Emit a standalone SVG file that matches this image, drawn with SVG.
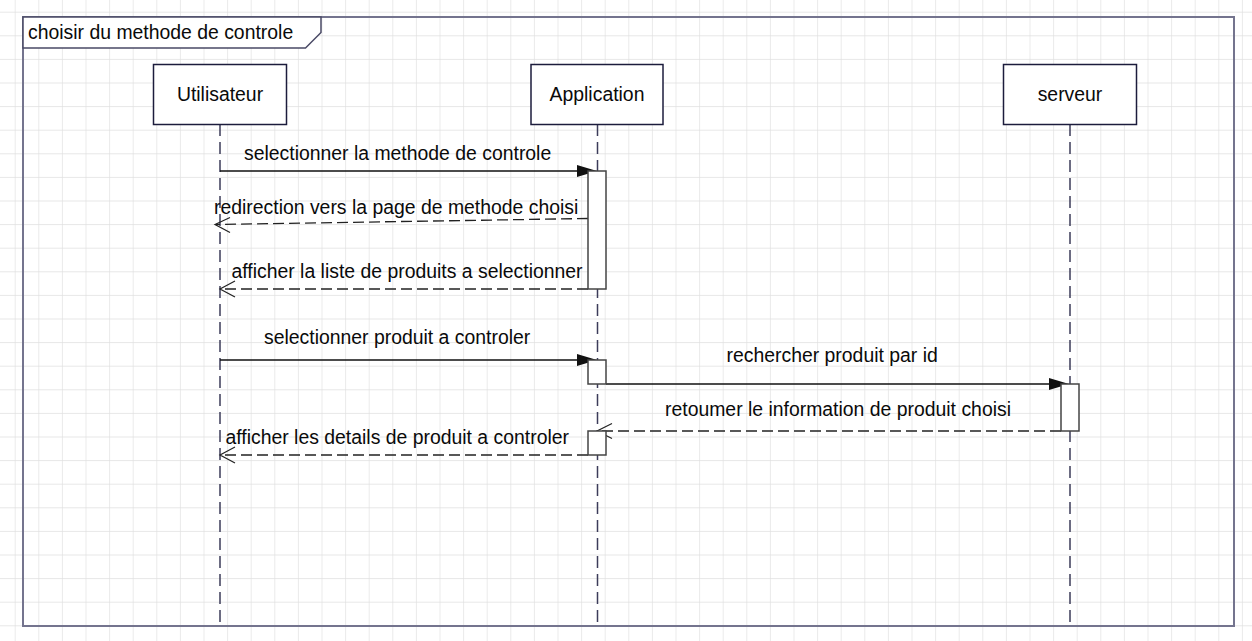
<svg xmlns="http://www.w3.org/2000/svg" width="1252" height="641" viewBox="0 0 1252 641">
  <style>
    text { font-family: "Liberation Sans", Arial, sans-serif; font-size: 19.4px; fill: #0a0a0a; }
    .actor { fill: #fff; stroke: #1c1c3c; stroke-width: 1.5; }
    .life { stroke: #3c3c5a; stroke-width: 1.5; stroke-dasharray: 12 6; fill: none; }
    .msg { stroke: #111; stroke-width: 1.3; fill: none; }
    .ret { stroke: #222; stroke-width: 1.3; fill: none; stroke-dasharray: 11 5; }
    .open { stroke: #222; stroke-width: 1.2; fill: none; }
    .head { fill: #111; stroke: none; }
    .act { fill: #fff; stroke: #444; stroke-width: 1.5; }
    .frame { fill: none; stroke: #74748e; stroke-width: 2; }
  </style>
  <defs>
    <pattern id="grid" patternUnits="userSpaceOnUse" x="14.7" y="11.7" width="23.6" height="23.6">
      <path d="M 23.6 0 L 0 0 0 23.6" fill="none" stroke="#e0e0e0" stroke-width="1.3"/>
    </pattern>
  </defs>
  <rect x="0" y="0" width="1252" height="641" fill="#fff"/>
  <rect x="0" y="0" width="1252" height="641" fill="url(#grid)"/>

  <g id="frame">
    <rect class="frame" x="23" y="17" width="1211" height="609"/>
    <path d="M23 17 L321 17 L321 32.5 L305.5 48 L23 48 Z" fill="#fff" stroke="#4a4a66" stroke-width="1.5"/>
    <text x="28" y="38.5">choisir du methode de controle</text>
  </g>

  <g id="utilisateur">
    <line class="life" x1="220" y1="124" x2="220" y2="626"/>
    <rect class="actor" x="153.5" y="64.5" width="133" height="60"/>
    <text x="220" y="101" text-anchor="middle">Utilisateur</text>
  </g>
  <g id="application">
    <line class="life" x1="597.5" y1="124" x2="597.5" y2="626"/>
    <rect class="actor" x="531" y="64.5" width="132" height="60"/>
    <text x="597" y="101" text-anchor="middle">Application</text>
  </g>
  <g id="serveur">
    <line class="life" x1="1070" y1="124" x2="1070" y2="626"/>
    <rect class="actor" x="1003.5" y="64.5" width="133" height="60"/>
    <text x="1070" y="101" text-anchor="middle">serveur</text>
  </g>

  <g id="connectors">
    <!-- 1 -->
    <line class="msg" x1="220" y1="171" x2="588" y2="171"/>
    <polygon class="head" points="577,165 597,171 577,177"/>
    <text x="244" y="160">selectionner la methode de controle</text>
    <!-- 2 -->
    <line class="ret" x1="588" y1="218.5" x2="216" y2="224.5"/>
    <polyline class="open" points="230,217.5 215,224.5 230,232.5"/>
    <text x="214" y="214">redirection vers la page de methode choisi</text>
    <!-- 3 -->
    <line class="ret" x1="588" y1="289" x2="221" y2="289"/>
    <polyline class="open" points="235,281 220,289 235,297"/>
    <text x="231.5" y="278">afficher la liste de produits a selectionner</text>
    <!-- 4 -->
    <line class="msg" x1="220" y1="360" x2="588" y2="360"/>
    <polygon class="head" points="577,354 597,360 577,366"/>
    <text x="264" y="344">selectionner produit a controler</text>
    <!-- 5 -->
    <line class="msg" x1="606" y1="384" x2="1061" y2="384"/>
    <polygon class="head" points="1049,378 1069,384 1049,390"/>
    <text x="726.5" y="361.5">rechercher produit par id</text>
    <!-- 6 -->
    <line class="ret" x1="1061" y1="431" x2="598" y2="431"/>
    <polyline class="open" points="612,423.5 597,431 612,438.5"/>
    <text x="665" y="416">retoumer le information de produit choisi</text>
    <!-- 7 -->
    <line class="ret" x1="588" y1="455" x2="221" y2="455"/>
    <polyline class="open" points="235,447 220,455 235,463"/>
    <text x="225.5" y="444">afficher les details de produit a controler</text>
  </g>

  <g id="activations">
    <rect class="act" x="588" y="171" width="18" height="118"/>
    <rect class="act" x="588" y="360" width="18" height="24"/>
    <rect class="act" x="1061" y="384" width="18" height="47"/>
    <rect class="act" x="588" y="431" width="18" height="24"/>
  </g>
</svg>
